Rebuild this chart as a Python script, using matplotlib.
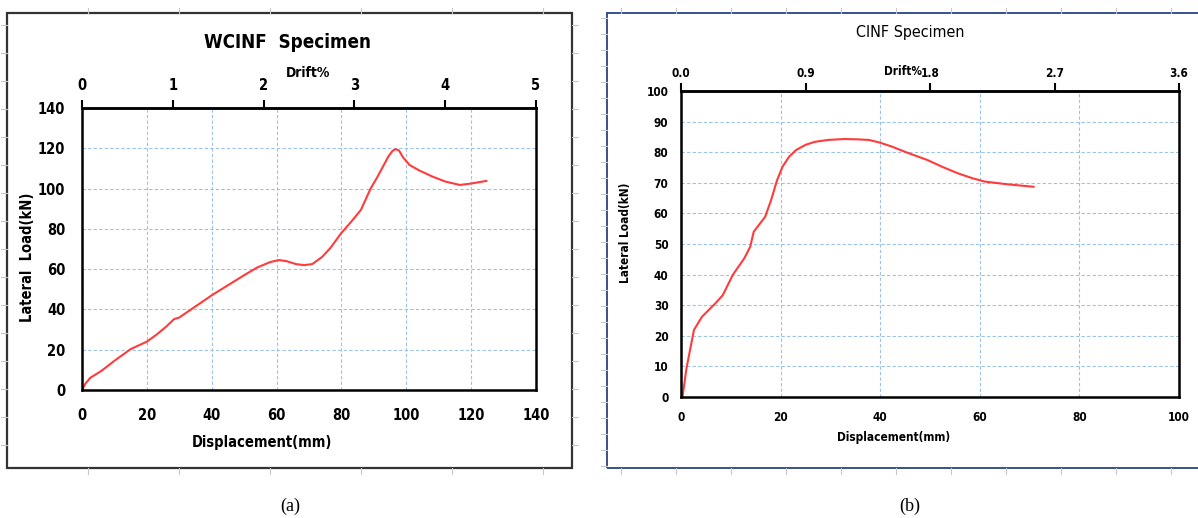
import matplotlib.pyplot as plt
from matplotlib.patches import Rectangle
from matplotlib.lines import Line2D

# (a) WCINF specimen: displacement (mm) vs lateral load (kN)
wcinf_disp = [0, 1, 2.5, 6, 10, 15, 20, 23, 26, 28.4, 30, 35, 40, 45, 50, 54,
              58, 60.7, 63, 66, 68.5, 71, 74, 76.6, 80, 83, 86, 89, 91, 93,
              94.5, 95.8, 96.8, 97.8, 99, 101, 104, 108, 112, 116.5, 120,
              124.7]
wcinf_load = [0, 3, 6, 9.5, 14.5, 20.3, 24, 27.5, 31.5, 35.2, 36, 41.5, 47,
              52, 57, 60.8, 63.5, 64.5, 64, 62.5, 62, 62.5, 66, 70.5, 78, 83.5,
              89.4, 100, 105.5, 111.5, 116, 118.8, 119.6, 118.8, 115.5, 111.7,
              109, 106, 103.5, 101.8, 102.5, 103.8]

# (b) CINF specimen
cinf_disp = [0, 0.3, 1.1, 2.6, 4.2, 6.9, 8.4, 10.4, 12.7, 13.9, 14.6, 16.9,
             18.1, 19.3, 20.4, 21.7, 23.1, 25, 26.9, 29.5, 32.7, 35.5, 37.8,
             40, 42.4, 45.5, 49.4, 52.5, 55.6, 58.5, 61, 65.6, 70.8]
cinf_load = [0, 0, 9.4, 21.9, 26.2, 30.6, 33.3, 39.9, 45.3, 49.1, 54, 58.9,
             64.4, 70.9, 75.3, 78.5, 80.7, 82.4, 83.4, 84, 84.3, 84.2, 84,
             83.1, 81.8, 79.8, 77.5, 75.2, 73.1, 71.5, 70.4, 69.5, 68.7]

wcinf_drift_ticks = [0, 1, 2, 3, 4, 5]
cinf_drift_ticks = [0.0, 0.9, 1.8, 2.7, 3.6]

W, H = 1198, 518
FONT = dict(family="DejaVu Sans", fontstretch="condensed", fontweight="bold")
GRID = "#9cc3e6"
RED = "#ff3b3b"


def px(x0, y0, x1, y1):
    # pixel box -> figure fraction [left, bottom, width, height]
    return [x0 / W, 1 - y1 / H, (x1 - x0) / W, (y1 - y0) / H]


def style(ax, tick_fs):
    for s in ax.spines.values():
        s.set_color("black")
        s.set_linewidth(1.8)
    ax.grid(True, color=GRID, linestyle=(0, (3, 2)), linewidth=0.8)
    ax.set_axisbelow(True)
    ax.tick_params(axis="both", length=0, labelsize=tick_fs)
    for lab in ax.get_xticklabels() + ax.get_yticklabels():
        lab.set_fontweight("bold")
        lab.set_fontstretch("condensed")


def ruler(fig, xs, y0, y1, ys, x0, x1):
    for x in xs:
        for a, b in ((y0, y0 - 5), (y1, y1 + 6)):
            fig.add_artist(Line2D([x / W, x / W], [1 - a / H, 1 - b / H],
                                  color="#c8c8c8", lw=0.8))
    for y in ys:
        fig.add_artist(Line2D([(x0 - 6) / W, x0 / W], [1 - y / H, 1 - y / H],
                              color="#c8c8c8", lw=0.8))
        if x1 is not None:
            fig.add_artist(Line2D([x1 / W, (x1 + 6) / W], [1 - y / H, 1 - y / H],
                                  color="#c8c8c8", lw=0.8))


def main():
    fig = plt.figure(figsize=(W / 100, H / 100), dpi=100)

    # outer frames
    ruler(fig, [88, 179, 270, 361, 452, 543], 13, 468,
          range(25, 468, 28), 7, 572)
    ruler(fig, range(621, 1198, 55), 13, 468, range(18, 468, 16), 607, None)
    fig.add_artist(Rectangle((7 / W, 1 - 468 / H), 565 / W, 455 / H,
                             transform=fig.transFigure, fill=False,
                             edgecolor="#333333", lw=1.6))
    fig.add_artist(Rectangle((607 / W, 1 - 468 / H), 600 / W, 455 / H,
                             transform=fig.transFigure, fill=False,
                             edgecolor="#3a4f8c", lw=1.4))

    # ---- (a) ----
    ax1 = fig.add_axes(px(82, 108, 536, 390))
    ax1.plot(wcinf_disp, wcinf_load, color=RED, lw=1.5)
    ax1.set_xlim(0, 140)
    ax1.set_ylim(0, 140)
    ax1.set_xticks(range(0, 141, 20))
    ax1.set_yticks(range(0, 141, 20))
    style(ax1, 10.5)
    ax1.tick_params(axis="x", pad=13)
    ax1.tick_params(axis="y", pad=12)
    top1 = ax1.secondary_xaxis("top", functions=(lambda d: d / 28.0,
                                                  lambda p: p * 28.0))
    top1.set_xticks(wcinf_drift_ticks)
    top1.spines["top"].set_linewidth(1.8)
    top1.tick_params(direction="out", length=6, width=1.5, pad=5,
                     labelsize=10.5)
    for lab in top1.get_xticklabels():
        lab.set_fontweight("bold")
        lab.set_fontstretch("condensed")

    fig.text(288 / W, 1 - 43 / H, "WCINF  Specimen", ha="center",
             va="center", fontsize=13.5, **FONT)
    fig.text(308 / W, 1 - 73 / H, "Drift%", ha="center", va="center",
             fontsize=10, **FONT)
    fig.text(262 / W, 1 - 443 / H, "Displacement(mm)", ha="center",
             va="center", fontsize=10.5, **FONT)
    fig.text(28 / W, 1 - 257 / H, "Lateral  Load(kN)", ha="center",
             va="center", rotation=90, fontsize=10.5, **FONT)
    fig.text(290 / W, 1 - 506 / H, "(a)", ha="center", va="center",
             fontsize=13, family="Liberation Serif")

    # ---- (b) ----
    ax2 = fig.add_axes(px(681, 91, 1179, 397))
    ax2.plot(cinf_disp, cinf_load, color=RED, lw=1.5)
    ax2.set_xlim(0, 100)
    ax2.set_ylim(0, 100)
    ax2.set_xticks(range(0, 101, 20))
    ax2.set_yticks(range(0, 101, 10))
    style(ax2, 8.5)
    ax2.tick_params(axis="x", pad=10)
    ax2.tick_params(axis="y", pad=9)
    top2 = ax2.secondary_xaxis("top", functions=(lambda d: d * 0.036,
                                                  lambda p: p / 0.036))
    top2.set_xticks(cinf_drift_ticks)
    top2.set_xticklabels([f"{t:.1f}" for t in cinf_drift_ticks])
    top2.spines["top"].set_linewidth(1.8)
    top2.tick_params(direction="out", length=6, width=1.5, pad=2,
                     labelsize=8.5)
    for lab in top2.get_xticklabels():
        lab.set_fontweight("bold")
        lab.set_fontstretch("condensed")

    fig.text(910 / W, 1 - 32 / H, "CINF Specimen", ha="center", va="center",
             fontsize=11.5, family="DejaVu Sans", fontstretch="condensed")
    # in the original "Drift%" runs into the 1.8 label; nudged left a bit
    fig.text(903 / W, 1 - 72 / H, "Drift%", ha="center", va="center",
             fontsize=8.5, **FONT)
    fig.text(894 / W, 1 - 438 / H, "Displacement(mm)", ha="center",
             va="center", fontsize=8.5, **FONT)
    fig.text(625 / W, 1 - 233 / H, "Lateral Load(kN)", ha="center",
             va="center", rotation=90, fontsize=8.5, **FONT)
    fig.text(910 / W, 1 - 506 / H, "(b)", ha="center", va="center",
             fontsize=13, family="Liberation Serif")

    fig.savefig("out.png", dpi=100)


if __name__ == "__main__":
    main()
